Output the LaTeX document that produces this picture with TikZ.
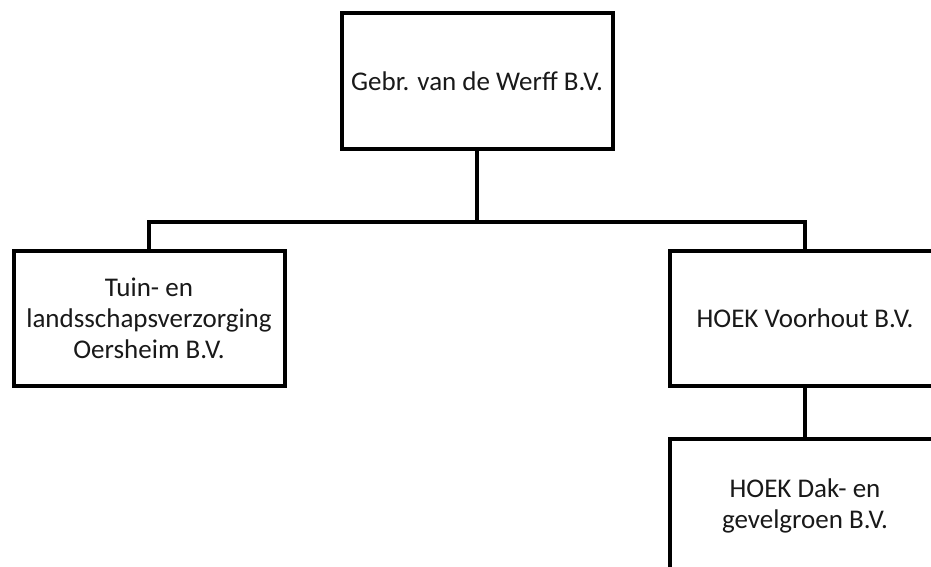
\documentclass[tikz,border=0pt]{standalone}
\usepackage{fontspec}
\setmainfont{Carlito}
\begin{document}
\begin{tikzpicture}[x=1pt,y=-1pt,
  orgbox/.style={draw=black, line width=4pt, fill=white, minimum width=271pt, minimum height=135pt,
    inner sep=0pt, align=center, font=\fontsize{27}{31}\selectfont, text=black!90},
  link/.style={draw=black, line width=4pt}]
\useasboundingbox (0,0) rectangle (931,567);
\clip (0,0) rectangle (931,567);
\fill[white] (0,0) rectangle (931,567);
\node[orgbox] (top) at (477,81) {Gebr. van de Werff B.V.};
\node[orgbox] (left) at (149,318.5) {Tuin- en\\landsschapsverzorging\\Oersheim B.V.};
\node[orgbox] (right) at (805,318.5) {HOEK Voorhout B.V.};
\node[orgbox] (bottom) at (805,506) {HOEK Dak- en\\gevelgroen B.V.};
\coordinate (bus) at (477,222);
\draw[link] (top.south) -- (bus);
\draw[link] (left.north) |- (bus) -| (right.north);
\draw[link] (right.south) -- (bottom.north);
\end{tikzpicture}
\end{document}
